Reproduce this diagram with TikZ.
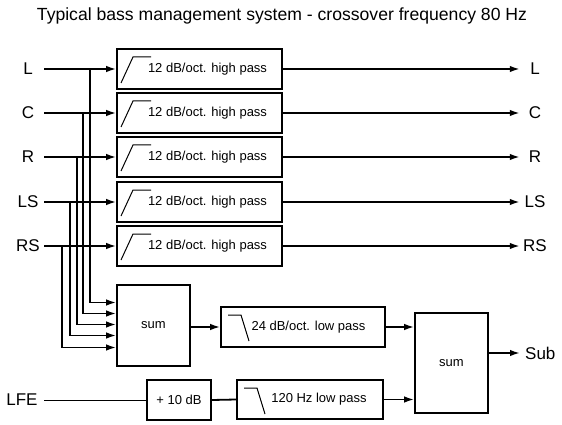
\documentclass[tikz,border=0pt]{standalone}
\usepackage{fontspec}
\setmainfont{Liberation Sans}
\usepackage{tikz}
\usetikzlibrary{positioning, arrows.meta, calc}

\tikzset{
  box/.style={draw, line width=1.6pt, minimum height=40pt, inner sep=0pt,
              font=\fontsize{13}{15}\selectfont},
  hpbox/.style={box, minimum width=165pt,
    path picture={\draw[line width=1pt] ($(path picture bounding box.north west)+(4,34)$)
      -- +(12,-26) -- +(30,-26);}},
  lpbox/.style={box,
    path picture={\draw[line width=1pt] ($(path picture bounding box.north west)+(7,8)$)
      -- +(13,0) -- +(21,26);}},
  inlabel/.style={minimum width=32pt, inner sep=0pt, font=\fontsize{17}{20}\selectfont},
  outlabel/.style={inlabel, minimum width=30pt},
  sig/.style={line width=1.8pt, -{Latex[length=10pt, width=6.5pt]}},
}

\begin{document}
\begin{tikzpicture}[x=1pt, y=-1pt]
    \useasboundingbox (0,0) rectangle (562,425);
    \node[font=\fontsize{17.6}{20}\selectfont] (title) at (282,16)
      {Typical bass management system - crossover frequency 80 Hz};

    % main channels
    \node[inlabel] (inL)  at (28,69)  {L};
    \node[inlabel] (inC)  at (28,113) {C};
    \node[inlabel] (inR)  at (28,157) {R};
    \node[inlabel] (inLS) at (28,202) {LS};
    \node[inlabel] (inRS) at (28,246) {RS};

    \node[hpbox] (hpL)  at (199.5,69)  {\hspace{16pt}12 dB/oct. high pass};
    \node[hpbox] (hpC)  at (199.5,113) {\hspace{16pt}12 dB/oct. high pass};
    \node[hpbox] (hpR)  at (199.5,157) {\hspace{16pt}12 dB/oct. high pass};
    \node[hpbox] (hpLS) at (199.5,202) {\hspace{16pt}12 dB/oct. high pass};
    \node[hpbox] (hpRS) at (199.5,246) {\hspace{16pt}12 dB/oct. high pass};

    \node[outlabel] (outL)  at (535,69)  {L};
    \node[outlabel] (outC)  at (535,113) {C};
    \node[outlabel] (outR)  at (535,157) {R};
    \node[outlabel] (outLS) at (535,202) {LS};
    \node[outlabel] (outRS) at (535,246) {RS};

    \foreach \ch in {L, C, R, LS, RS} {
      \draw[sig] (in\ch.east) -- (hp\ch.west);
      \draw[sig] (hp\ch.east) -- (out\ch.west);
    }

    % bass path
    \node[box, minimum width=73pt, minimum height=81pt] (sum1) at (153.5,325.5) {sum};
    \node[lpbox, minimum width=164pt] (lp24) at (303,327) {\hspace{11pt}24 dB/oct. low pass};
    \node[box, minimum width=73pt, minimum height=100pt] (sum2) at (451.5,363) {sum};
    \node[anchor=west, inner sep=0pt, font=\fontsize{17}{20}\selectfont] (outSub) at (525,353) {Sub};

    \coordinate (tapL)  at (90,69);
    \coordinate (tapC)  at (83,113);
    \coordinate (tapR)  at (77,157);
    \coordinate (tapLS) at (70,202);
    \coordinate (tapRS) at (62,246);

    \draw[sig] (tapL)  |- ($(sum1.west)+(0,-23)$);
    \draw[sig] (tapC)  |- ($(sum1.west)+(0,-12)$);
    \draw[sig] (tapR)  |- ($(sum1.west)+(0,-1)$);
    \draw[sig] (tapLS) |- ($(sum1.west)+(0,10)$);
    \draw[sig] (tapRS) |- ($(sum1.west)+(0,22)$);

    \draw[sig] (sum1.east |- lp24.west) -- (lp24.west);
    \draw[sig] (lp24.east) -- (lp24.east -| sum2.west);
    \draw[sig] (sum2.east |- outSub.west) -- ([xshift=-5pt]outSub.west);

    % LFE
    \node[inlabel, minimum width=44pt] (inLFE) at (22,400) {LFE};
    \node[box, minimum width=64pt] (gain) at (179,400) {+ 10 dB};
    \node[lpbox, minimum width=146pt, minimum height=39pt] (lp120) at (310,399.5) {\hspace{18pt}120 Hz low pass};

    \draw[line width=1pt] (inLFE.east) -- (gain.west);
    \draw[line width=1.8pt] (gain.east) -- (lp120.west);
    \draw[sig] (lp120.east) -- (lp120.east -| sum2.west);
\end{tikzpicture}
\end{document}
